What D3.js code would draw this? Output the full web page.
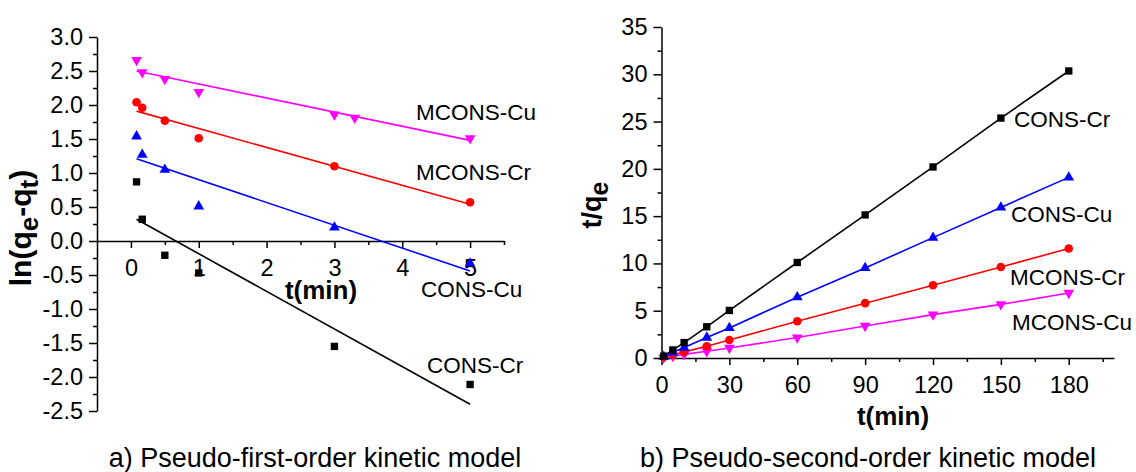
<!DOCTYPE html>
<html>
<head>
<meta charset="utf-8">
<script src="https://cdn.jsdelivr.net/npm/d3@7"></script>
<style>
body { margin: 0; background: #fff; }
text { font-family: "Liberation Sans", Arial, sans-serif; }
</style>
</head>
<body>
<svg id="chart" width="1136" height="472"></svg>
<script>
// ---- data ----
// a) pseudo-first-order: ln(qe-qt) vs t (min)
var tFirst = [0.083, 0.167, 0.5, 1, 3, 5];
var tFirstMCu = [0.083, 0.167, 0.5, 1, 3, 3.3, 5];
var lnConsCr = [0.87, 0.32, -0.21, -0.47, -1.55, -2.11];
var lnConsCu = [1.54, 1.27, 1.05, 0.51, 0.20, -0.33];
var lnMconsCr = [2.04, 1.96, 1.77, 1.51, 1.10, 0.57];
var lnMconsCu = [2.66, 2.48, 2.38, 2.19, 1.86, 1.81, 1.51];
// fitted lines, values at the two ends
var fitT = [0.083, 5];
var fitConsCr = [0.32, -2.40];
var fitConsCu = [1.21, -0.44];
var fitMconsCr = [1.91, 0.54];
var fitMconsCu = [2.50, 1.48];

// b) pseudo-second-order: t/qe vs t (min)
var tSecond = [1, 5, 10, 20, 30, 60, 90, 120, 150, 180];
var tqConsCr = [0.2, 0.85, 1.63, 3.3, 5.03, 10.1, 15.13, 20.2, 25.37, 30.35];
var tqConsCu = [0.15, 0.6, 1.1, 2.16, 3.18, 6.43, 9.52, 12.73, 15.92, 19.1];
var tqMconsCr = [0.1, 0.35, 0.65, 1.25, 1.91, 3.88, 5.8, 7.7, 9.62, 11.58];
var tqMconsCu = [0.05, 0.2, 0.38, 0.72, 1.06, 2.16, 3.39, 4.59, 5.67, 6.88];

// tick values
var xTicksA = [0, 1, 2, 3, 4, 5];
var xMinorA = [0.5, 1.5, 2.5, 3.5, 4.5, 5.5];
var yTicksA = [-2.5, -2, -1.5, -1, -0.5, 0, 0.5, 1, 1.5, 2, 2.5, 3];
var yMinorA = [-2.25, -1.75, -1.25, -0.75, -0.25, 0.25, 0.75, 1.25, 1.75, 2.25, 2.75];
var xTicksB = [0, 30, 60, 90, 120, 150, 180];
var xMinorB = [15, 45, 75, 105, 135, 165, 195];
var yTicksB = [0, 5, 10, 15, 20, 25, 30, 35];
var yMinorB = [2.5, 7.5, 12.5, 17.5, 22.5, 27.5, 32.5];

var svg = d3.select("#chart");

var colors = {CCr: "#000000", CCu: "#0000ff", MCr: "#ff0000", MCu: "#ff00ff"};
var symbols = {
    CCr: {type: d3.symbolSquare, size: 54, rot: 0},
    CCu: {type: d3.symbolTriangle, size: 50, rot: 0},
    MCr: {type: d3.symbolCircle, size: 58, rot: 0},
    MCu: {type: d3.symbolTriangle, size: 50, rot: 180}
};

// ---- scales ----
var xA = d3.scaleLinear().domain([-0.5, 5.5]).range([97, 504]);
var yA = d3.scaleLinear().domain([-2.5, 3]).range([411, 37]);
var xB = d3.scaleLinear().domain([0, 200]).range([661.5, 1114]);
var yB = d3.scaleLinear().domain([0, 35]).range([358, 27]);

function styleAxis(g) {
    g.attr("font-family", null).attr("font-size", null);
    g.selectAll("path, line").attr("stroke", "#000").attr("stroke-width", 1.5);
    g.selectAll("text").attr("fill", "#000").style("font-size", "23.5px");
}

function drawAxes(x, y, xt, xm, yt, ym, xAt, yFmt) {
    var gx = svg.append("g").attr("transform", "translate(0," + y(xAt) + ")");
    gx.call(d3.axisBottom(x).tickValues(xm).tickSize(4).tickFormat("").tickSizeOuter(0));
    gx.select(".domain").remove();
    gx.call(styleAxis);
    var gx2 = svg.append("g").attr("transform", "translate(0," + y(xAt) + ")");
    gx2.call(d3.axisBottom(x).tickValues(xt).tickSize(7).tickPadding(11).tickSizeOuter(0)
        .tickFormat(function(d) { return String(d); }));
    gx2.call(styleAxis);

    var gy = svg.append("g").attr("transform", "translate(" + x.range()[0] + ",0)");
    gy.call(d3.axisLeft(y).tickValues(ym).tickSize(4).tickFormat("").tickSizeOuter(0));
    gy.select(".domain").remove();
    gy.call(styleAxis);
    var gy2 = svg.append("g").attr("transform", "translate(" + x.range()[0] + ",0)");
    gy2.call(d3.axisLeft(y).tickValues(yt).tickSize(8).tickPadding(6).tickSizeOuter(0).tickFormat(yFmt));
    gy2.call(styleAxis);
}

drawAxes(xA, yA, xTicksA, xMinorA, yTicksA, yMinorA, 0, function(d) { return d.toFixed(1); });
drawAxes(xB, yB, xTicksB, xMinorB, yTicksB, yMinorB, 0, function(d) { return String(d); });

// ---- marks ----
function drawPoints(x, y, ts, vs, key) {
    var s = symbols[key];
    svg.append("g").selectAll("path")
        .data(ts.map(function(t, i) { return [t, vs[i]]; }))
        .enter().append("path")
        .attr("d", d3.symbol().type(s.type).size(s.size))
        .attr("transform", function(d) {
            return "translate(" + x(d[0]) + "," + y(d[1]) + ") rotate(" + s.rot + ")";
        })
        .attr("fill", colors[key]);
}

function drawLine(x, y, ts, vs, key) {
    var line = d3.line().x(function(d) { return x(d[0]); }).y(function(d) { return y(d[1]); });
    svg.append("path")
        .datum(ts.map(function(t, i) { return [t, vs[i]]; }))
        .attr("d", line)
        .attr("fill", "none")
        .attr("stroke", colors[key])
        .attr("stroke-width", 1.6);
}

// panel a
drawLine(xA, yA, fitT, fitMconsCu, "MCu");
drawLine(xA, yA, fitT, fitMconsCr, "MCr");
drawLine(xA, yA, fitT, fitConsCu, "CCu");
drawLine(xA, yA, fitT, fitConsCr, "CCr");
drawPoints(xA, yA, tFirstMCu, lnMconsCu, "MCu");
drawPoints(xA, yA, tFirst, lnMconsCr, "MCr");
drawPoints(xA, yA, tFirst, lnConsCu, "CCu");
drawPoints(xA, yA, tFirst, lnConsCr, "CCr");

// panel b
drawLine(xB, yB, tSecond, tqConsCr, "CCr");
drawLine(xB, yB, tSecond, tqConsCu, "CCu");
drawLine(xB, yB, tSecond, tqMconsCr, "MCr");
drawLine(xB, yB, tSecond, tqMconsCu, "MCu");
drawPoints(xB, yB, tSecond, tqMconsCu, "MCu");
drawPoints(xB, yB, tSecond, tqMconsCr, "MCr");
drawPoints(xB, yB, tSecond, tqConsCu, "CCu");
drawPoints(xB, yB, tSecond, tqConsCr, "CCr");

// ---- series labels ----
var labelsA = [["MCONS-Cu", 416, 120], ["MCONS-Cr", 416, 180], ["CONS-Cu", 421, 297], ["CONS-Cr", 427, 373]];
var labelsB = [["CONS-Cr", 1014, 127], ["CONS-Cu", 1011, 222], ["MCONS-Cr", 1010, 285], ["MCONS-Cu", 1012, 330]];
svg.append("g").selectAll("text")
    .data(labelsA.concat(labelsB))
    .enter().append("text")
    .attr("x", function(d) { return d[1]; })
    .attr("y", function(d) { return d[2]; })
    .style("font-size", "22.5px")
    .text(function(d) { return d[0]; });

// ---- axis titles ----
svg.append("text").attr("x", 321).attr("y", 299).attr("text-anchor", "middle")
    .style("font-size", "26px").style("font-weight", "bold").text("t(min)");
svg.append("text").attr("x", 893).attr("y", 425).attr("text-anchor", "middle")
    .style("font-size", "26px").style("font-weight", "bold").text("t(min)");

var yl = svg.append("text").attr("transform", "translate(31,228) rotate(-90)")
    .attr("text-anchor", "middle").style("font-size", "30px").style("font-weight", "bold");
yl.append("tspan").text("ln(q");
yl.append("tspan").attr("dy", 7).style("font-size", "26px").text("e");
yl.append("tspan").attr("dy", -7).text("-q");
yl.append("tspan").attr("dy", 7).style("font-size", "26px").text("t");
yl.append("tspan").attr("dy", -7).text(")");

var yr = svg.append("text").attr("transform", "translate(601,205) rotate(-90)")
    .attr("text-anchor", "middle").style("font-size", "27px").style("font-weight", "bold");
yr.append("tspan").text("t/q");
yr.append("tspan").attr("dy", 7).style("font-size", "25px").text("e");

// ---- captions ----
svg.append("text").attr("x", 315).attr("y", 467).attr("text-anchor", "middle")
    .style("font-size", "27px").text("a) Pseudo-first-order kinetic model");
svg.append("text").attr("x", 868).attr("y", 467).attr("text-anchor", "middle")
    .style("font-size", "27px").text("b) Pseudo-second-order kinetic model");
</script>
</body>
</html>
